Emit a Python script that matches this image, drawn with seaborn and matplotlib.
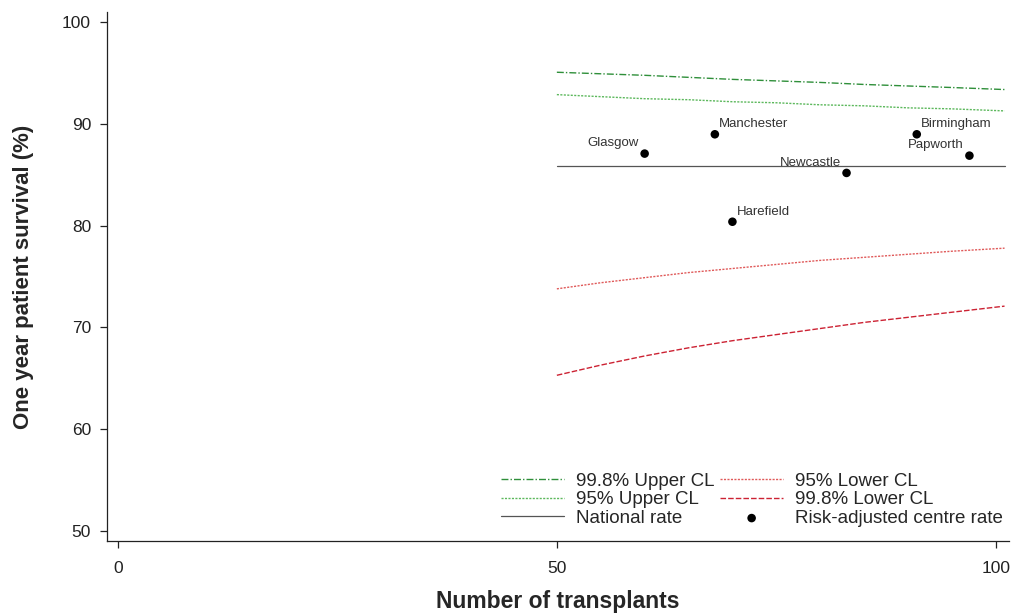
import pandas as pd
import matplotlib
matplotlib.use("Agg")
import matplotlib.pyplot as plt
import seaborn as sns

# centre results (number of transplants, risk-adjusted one year survival %)
centres = ["Glasgow", "Manchester", "Harefield", "Newcastle", "Birmingham", "Papworth"]
transplants = [60, 68, 70, 83, 91, 97]
survival = [87.1, 89.0, 80.4, 85.2, 89.0, 86.9]

# funnel limits
n_grid = [50, 55, 60, 65, 70, 75, 80, 85, 90, 95, 101]
upper_998 = [95.1, 94.95, 94.8, 94.6, 94.4, 94.25, 94.1, 93.9, 93.75, 93.6, 93.4]
upper_95 = [92.9, 92.7, 92.5, 92.4, 92.2, 92.1, 91.9, 91.8, 91.6, 91.5, 91.3]
lower_95 = [73.8, 74.4, 74.9, 75.4, 75.8, 76.2, 76.6, 76.9, 77.2, 77.5, 77.8]
lower_998 = [65.3, 66.3, 67.2, 68.0, 68.7, 69.3, 69.9, 70.5, 71.0, 71.5, 72.1]
national_rate = 85.9

sns.set_style("ticks")
plt.rcParams["font.family"] = ["Liberation Sans", "DejaVu Sans"]

fig = plt.figure(figsize=(10.14, 6.13), dpi=100)
ax = fig.add_axes([0.1055, 0.1174, 0.8895, 0.8626])

limits = pd.DataFrame({"n": n_grid, "up998": upper_998, "up95": upper_95,
                       "lo95": lower_95, "lo998": lower_998})
pts = pd.DataFrame({"centre": centres, "n": transplants, "surv": survival})

sns.lineplot(data=limits, x="n", y="up998", ax=ax, color="#2f8f3a", lw=1.0,
             linestyle=(0, (5, 1.5, 1, 1.5)), label="99.8% Upper CL")
sns.lineplot(data=limits, x="n", y="up95", ax=ax, color="#5cb85c", lw=1.0,
             linestyle=(0, (1.5, 1)), label="95% Upper CL")
sns.lineplot(x=[n_grid[0], n_grid[-1]], y=[national_rate, national_rate], ax=ax,
             color="#555555", lw=0.9, label="National rate")
sns.lineplot(data=limits, x="n", y="lo95", ax=ax, color="#e05a5a", lw=1.0,
             linestyle=(0, (1.5, 1)), label="95% Lower CL")
sns.lineplot(data=limits, x="n", y="lo998", ax=ax, color="#cc2233", lw=1.0,
             linestyle=(0, (4, 1.5)), label="99.8% Lower CL")
sns.scatterplot(data=pts, x="n", y="surv", ax=ax, color="black", s=38,
                edgecolor="none", label="Risk-adjusted centre rate", zorder=5)

# label placement: which side of the dot the name sits
left_side = {"Glasgow", "Newcastle", "Papworth"}
for name, x, y in zip(centres, transplants, survival):
    if name in left_side:
        ax.annotate(name, (x, y), xytext=(-4, 3), textcoords="offset points",
                    ha="right", va="bottom", fontsize=9.5, color="#333333")
    else:
        ax.annotate(name, (x, y), xytext=(3, 3), textcoords="offset points",
                    ha="left", va="bottom", fontsize=9.5, color="#333333")

ax.set_xlim(-1.25, 101.5)
ax.set_ylim(49.0, 101.0)
ax.set_xticks([0, 50, 100])
ax.set_yticks([50, 60, 70, 80, 90, 100])
ax.tick_params(labelsize=12.5, length=5, width=0.9, colors="#222222")
ax.tick_params(axis="x", pad=9.5)
ax.tick_params(axis="y", pad=6.5)
sns.despine(ax=ax)
for s in ["left", "bottom"]:
    ax.spines[s].set_linewidth(0.9)
    ax.spines[s].set_color("#222222")

ax.set_xlabel("Number of transplants", fontsize=16.5, fontweight="bold", labelpad=10)
ax.set_ylabel("One year patient survival (%)", fontsize=16, fontweight="bold", labelpad=20)

ax.legend(ncol=2, loc="lower right", bbox_to_anchor=(1003 / 1014, 1 - 527 / 613),
          bbox_transform=fig.transFigure, frameon=False, fontsize=13.5,
          labelspacing=0.08, handlelength=3.36, handletextpad=0.64, columnspacing=0.3,
          borderpad=0, borderaxespad=0)

fig.savefig("out.png", dpi=100)
